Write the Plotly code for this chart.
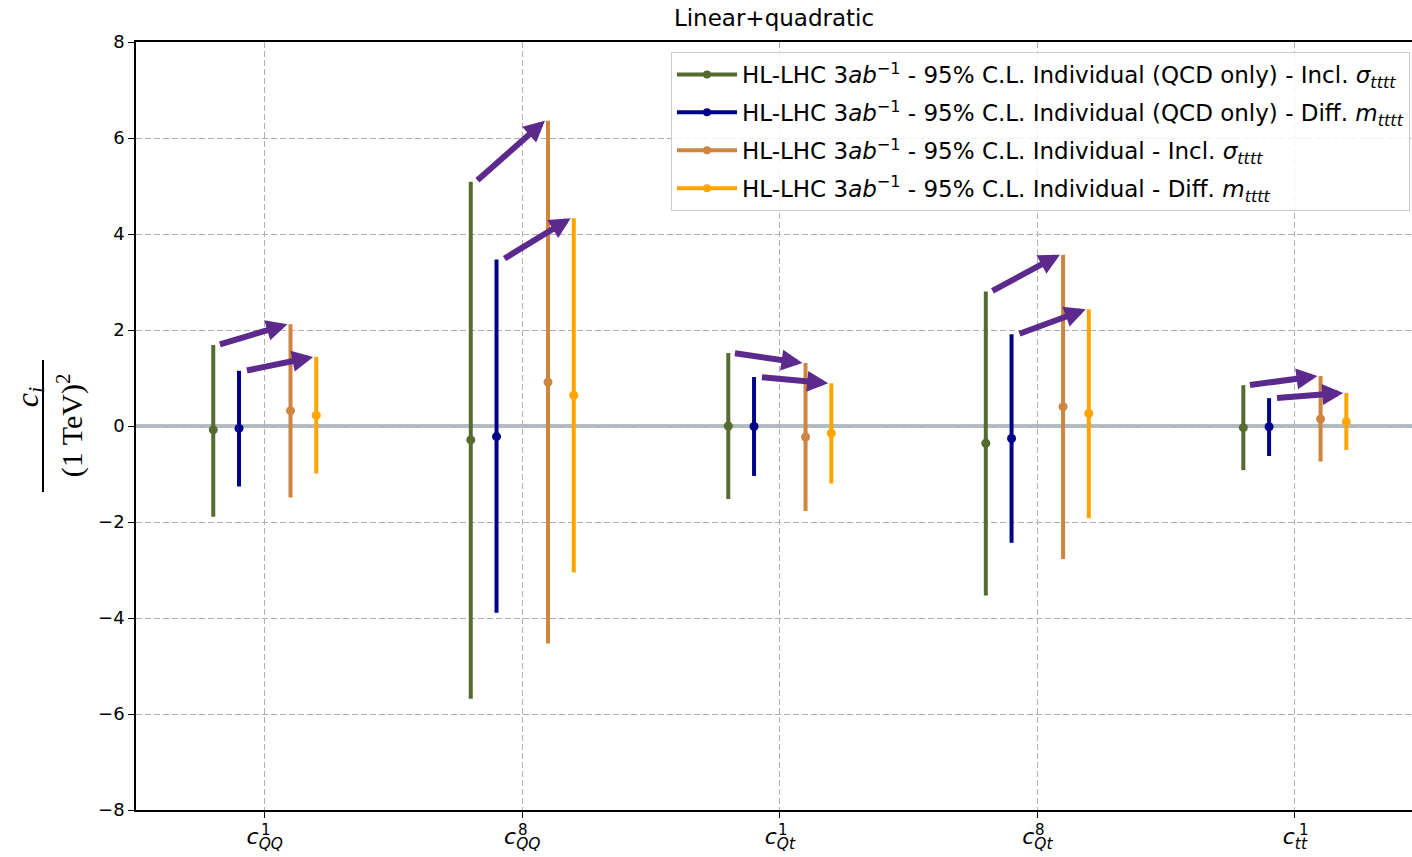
import plotly.graph_objects as go

# ---- data ----
tick_labels = [
    "<i>c</i><sub><i>QQ</i></sub>",
    "<i>c</i><sub><i>QQ</i></sub>",
    "<i>c</i><sub><i>Qt</i></sub>",
    "<i>c</i><sub><i>Qt</i></sub>",
    "<i>c</i><sub><i>tt</i></sub>",
]
tick_superscripts = ["1", "8", "1", "8", "1"]
series_names = [
    "HL-LHC 3<i>ab</i><sup>−1</sup> - 95% C.L. Individual (QCD only) - Incl. <i>σ</i><sub><i>tttt</i></sub>",
    "HL-LHC 3<i>ab</i><sup>−1</sup> - 95% C.L. Individual (QCD only) - Diff. <i>m</i><sub><i>tttt</i></sub>",
    "HL-LHC 3<i>ab</i><sup>−1</sup> - 95% C.L. Individual - Incl. <i>σ</i><sub><i>tttt</i></sub>",
    "HL-LHC 3<i>ab</i><sup>−1</sup> - 95% C.L. Individual - Diff. <i>m</i><sub><i>tttt</i></sub>",
]

qcd_incl_center = [-0.08, -0.29, 0.00, -0.36, -0.035]
qcd_incl_low = [-1.89, -5.68, -1.52, -3.53, -0.92]
qcd_incl_high = [1.69, 5.09, 1.52, 2.80, 0.85]

qcd_diff_center = [-0.05, -0.22, -0.01, -0.26, -0.015]
qcd_diff_low = [-1.26, -3.89, -1.04, -2.43, -0.625]
qcd_diff_high = [1.15, 3.47, 1.02, 1.91, 0.58]

full_incl_center = [0.32, 0.915, -0.23, 0.40, 0.146]
full_incl_low = [-1.49, -4.53, -1.77, -2.77, -0.74]
full_incl_high = [2.12, 6.36, 1.31, 3.57, 1.04]

full_diff_center = [0.22, 0.64, -0.15, 0.26, 0.09]
full_diff_low = [-0.99, -3.05, -1.20, -1.92, -0.50]
full_diff_high = [1.44, 4.33, 0.89, 2.43, 0.69]

y_ticks = [-8, -6, -4, -2, 0, 2, 4, 6, 8]

# ---- styling ----
colors = ["#556b2f", "#00008b", "#cd853f", "#ffa500"]
offsets = [-0.2, -0.1, 0.1, 0.2]
arrow_color = "#5c2a8c"
sup_shift_px = [-6, -6, -4, -4, 2]   # where each superscript sits relative to its tick

centers = [qcd_incl_center, qcd_diff_center, full_incl_center, full_diff_center]
lows = [qcd_incl_low, qcd_diff_low, full_incl_low, full_diff_low]
highs = [qcd_incl_high, qcd_diff_high, full_incl_high, full_diff_high]

n = len(tick_labels)
fig = go.Figure()

for k in range(4):
    xs = [i + offsets[k] for i in range(n)]
    fig.add_trace(go.Scatter(
        x=xs, y=centers[k], mode="markers",
        marker=dict(color=colors[k], size=9),
        error_y=dict(type="data", symmetric=False,
                     array=[h - c for h, c in zip(highs[k], centers[k])],
                     arrayminus=[c - l for c, l in zip(centers[k], lows[k])],
                     width=0, thickness=4, color=colors[k]),
        showlegend=False, hoverinfo="skip",
    ))
    # legend entry (line + dot)
    fig.add_trace(go.Scatter(
        x=[None], y=[None], mode="lines+markers", name=series_names[k],
        line=dict(color=colors[k], width=4), marker=dict(color=colors[k], size=8),
        legendgroup=f"g{k}",
    ))

annotations = []
for i in range(n):
    pairs = [(0, 2, 0.02), (1, 3, 0.025)]
    for a, b, off in pairs:
        annotations.append(dict(
            x=i + offsets[b] - 0.012, y=highs[b][i],
            ax=i + offsets[a] + off, ay=highs[a][i],
            xref="x", yref="y", axref="x", ayref="y",
            text="", showarrow=True, arrowhead=2, arrowsize=0.7,
            arrowwidth=6, arrowcolor=arrow_color, standoff=0,
        ))

# superscripts of the tick labels, stacked above the subscripts
px_per_cat = 1276 / 4.955
for i in range(n):
    annotations.append(dict(
        text=tick_superscripts[i], xref="x", yref="paper",
        x=i + sup_shift_px[i] / px_per_cat, y=-0.0265, xanchor="left", yanchor="middle",
        showarrow=False, font=dict(size=15, color="black"),
    ))

# y-axis label as a fraction
serif = "Liberation Serif"
annotations += [
    dict(text="<i>c<sub>i</sub></i>", xref="paper", yref="paper",
         x=-0.0835, y=0.538, xanchor="center", yanchor="middle",
         textangle=-90, showarrow=False,
         font=dict(family=serif, size=32, color="black")),
    dict(text="(1 TeV)<sup>2</sup>", xref="paper", yref="paper",
         x=-0.0517, y=0.501, xanchor="center", yanchor="middle",
         textangle=-90, showarrow=False,
         font=dict(family=serif, size=30, color="black")),
]

shapes = [
    dict(type="line", xref="paper", yref="y", x0=0, x1=1, y0=0, y1=0,
         line=dict(color="rgba(119,136,153,0.55)", width=4), layer="below"),
    dict(type="line", xref="paper", yref="paper", x0=-0.0729, x1=-0.0729,
         y0=0.414, y1=0.586, line=dict(color="black", width=2)),
]

fig.update_layout(
    width=1412, height=857,
    margin=dict(l=136, r=0, t=42, b=47),
    paper_bgcolor="white", plot_bgcolor="white",
    font=dict(family="DejaVu Sans", color="black"),
    title=dict(text="Linear+quadratic", x=(0.5 * 1276 + 136) / 1412, xanchor="center",
               y=1 - 18 / 857, yanchor="middle", font=dict(size=23)),
    annotations=annotations,
    shapes=shapes,
    legend=dict(x=1 - 2 / 1276, xanchor="right", y=1 - 10 / 768, yanchor="top",
                bgcolor="rgba(255,255,255,0.85)", bordercolor="#cccccc", borderwidth=1,
                font=dict(size=23), tracegroupgap=5, traceorder="grouped",
                itemwidth=60),
    xaxis=dict(range=[-0.5, 4.455], tickvals=list(range(n)), ticktext=tick_labels,
               showgrid=True, gridcolor="#b0b0b0", griddash="6px,3px", gridwidth=1.2,
               showline=True, linecolor="black", linewidth=1.5, mirror=True,
               ticks="outside", ticklen=6, tickcolor="black", ticklabelstandoff=0,
               tickfont=dict(size=22), zeroline=False, automargin=False),
    yaxis=dict(range=[-8, 8], tickvals=y_ticks, ticktext=[str(v).replace("-", "−") for v in y_ticks],
               showgrid=True, gridcolor="#b0b0b0", griddash="6px,3px", gridwidth=1.2,
               showline=True, linecolor="black", linewidth=1.5,
               ticks="outside", ticklen=6, tickcolor="black",
               tickfont=dict(size=18), zeroline=False, automargin=False),
)

fig.write_html("out.html")
